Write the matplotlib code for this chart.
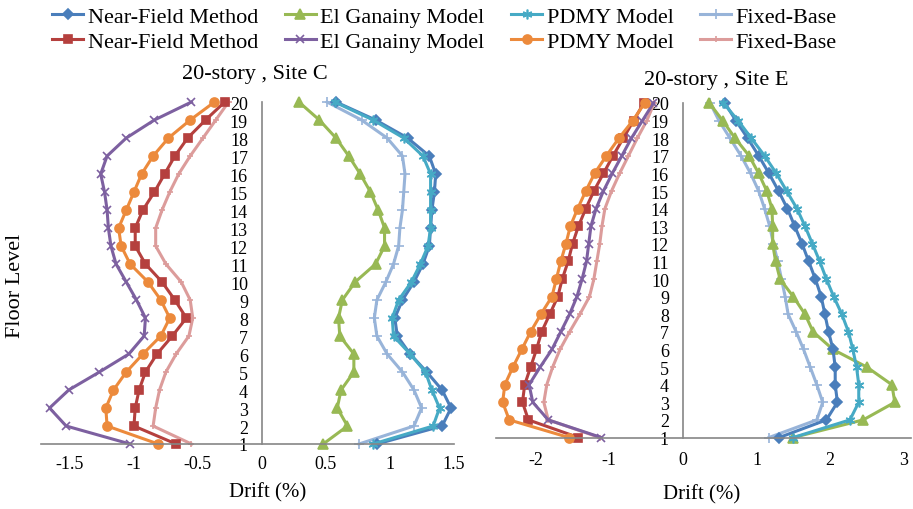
import matplotlib
matplotlib.use("Agg")
import matplotlib.pyplot as plt

plt.rcParams['font.family'] = ['Liberation Serif', 'DejaVu Serif']

floors = list(range(1, 21))

# Site C, values listed from floor 1 to floor 20
nf_pos_c = [0.90, 1.41, 1.48, 1.41, 1.29, 1.16, 1.06, 1.04, 1.10, 1.19, 1.26, 1.31, 1.32, 1.33, 1.35, 1.36, 1.31, 1.14, 0.89, 0.58]
eg_pos_c = [0.48, 0.67, 0.59, 0.62, 0.72, 0.72, 0.61, 0.60, 0.63, 0.73, 0.89, 0.96, 0.96, 0.91, 0.85, 0.77, 0.68, 0.58, 0.45, 0.29]
pdmy_pos_c = [0.87, 1.34, 1.39, 1.33, 1.28, 1.16, 1.03, 1.02, 1.07, 1.17, 1.24, 1.30, 1.32, 1.32, 1.32, 1.32, 1.26, 1.11, 0.87, 0.57]
fb_pos_c = [0.76, 1.19, 1.25, 1.19, 1.10, 0.98, 0.90, 0.88, 0.90, 0.97, 1.03, 1.07, 1.08, 1.10, 1.11, 1.12, 1.10, 0.98, 0.78, 0.51]
nf_neg_c = [-0.67, -1.00, -0.99, -0.96, -0.91, -0.82, -0.70, -0.59, -0.68, -0.78, -0.91, -0.99, -0.99, -0.93, -0.84, -0.76, -0.68, -0.58, -0.44, -0.29]
eg_neg_c = [-1.03, -1.53, -1.66, -1.51, -1.27, -1.04, -0.92, -0.91, -0.98, -1.06, -1.14, -1.18, -1.20, -1.21, -1.23, -1.26, -1.21, -1.06, -0.84, -0.55]
pdmy_neg_c = [-0.81, -1.21, -1.22, -1.16, -1.06, -0.93, -0.79, -0.72, -0.79, -0.89, -1.03, -1.10, -1.12, -1.06, -1.00, -0.94, -0.85, -0.73, -0.56, -0.37]
fb_neg_c = [-0.55, -0.85, -0.83, -0.80, -0.75, -0.67, -0.57, -0.54, -0.56, -0.63, -0.75, -0.83, -0.83, -0.78, -0.72, -0.65, -0.56, -0.46, -0.36, -0.26]

# Site E
nf_pos_e = [1.31, 1.95, 2.10, 2.07, 2.07, 2.04, 1.98, 1.93, 1.88, 1.80, 1.71, 1.62, 1.52, 1.42, 1.30, 1.17, 1.03, 0.88, 0.72, 0.57]
eg_pos_e = [1.50, 2.45, 2.88, 2.84, 2.50, 2.04, 1.77, 1.66, 1.50, 1.32, 1.26, 1.22, 1.22, 1.21, 1.14, 1.03, 0.90, 0.71, 0.54, 0.36]
pdmy_pos_e = [1.50, 2.27, 2.39, 2.39, 2.36, 2.31, 2.25, 2.16, 2.05, 1.95, 1.86, 1.76, 1.66, 1.55, 1.41, 1.27, 1.11, 0.93, 0.75, 0.55]
fb_pos_e = [1.17, 1.82, 1.90, 1.82, 1.73, 1.64, 1.54, 1.43, 1.39, 1.34, 1.29, 1.23, 1.18, 1.11, 1.03, 0.92, 0.79, 0.64, 0.49, 0.37]
nf_neg_e = [-1.42, -2.10, -2.18, -2.15, -2.07, -1.99, -1.92, -1.81, -1.70, -1.64, -1.56, -1.50, -1.42, -1.32, -1.21, -1.08, -0.95, -0.81, -0.67, -0.53]
eg_neg_e = [-1.11, -1.83, -2.04, -2.09, -1.94, -1.78, -1.66, -1.54, -1.44, -1.37, -1.31, -1.28, -1.25, -1.18, -1.08, -0.96, -0.83, -0.70, -0.55, -0.40]
pdmy_neg_e = [-1.55, -2.36, -2.45, -2.42, -2.31, -2.19, -2.07, -1.93, -1.78, -1.72, -1.66, -1.59, -1.53, -1.43, -1.32, -1.20, -1.04, -0.87, -0.68, -0.52]
fb_neg_e = [-1.13, -1.83, -1.89, -1.85, -1.77, -1.67, -1.54, -1.40, -1.27, -1.21, -1.17, -1.13, -1.10, -1.06, -0.97, -0.86, -0.74, -0.62, -0.49, -0.39]

labels = ["Near-Field Method", "El Ganainy Model", "PDMY Model", "Fixed-Base"]

# series styles: (color, marker, markersize)
styles = {
    "nf_pos": ('#4A7EBB', 'D', 5),
    "eg_pos": ('#98B954', '^', 6.5),
    "pdmy_pos": ('#46AAC5', (6, 2, 0), 7),
    "fb_pos": ('#98B4D9', '+', 7),
    "nf_neg": ('#B5403E', 's', 6),
    "eg_neg": ('#7D60A0', 'x', 6),
    "pdmy_neg": ('#EC8A3C', 'o', 6.5),
    "fb_neg": ('#DC9C9B', '+', 5),
}

fig = plt.figure(figsize=(9.13, 5.10), dpi=100)
ax_c = fig.add_axes([40.6 / 913, 65 / 510, 413 / 913, 342 / 510])
ax_e = fig.add_axes([496 / 913, 71.5 / 510, 415 / 913, 334.5 / 510])

data_c = {"nf_pos": nf_pos_c, "eg_pos": eg_pos_c, "pdmy_pos": pdmy_pos_c, "fb_pos": fb_pos_c,
          "nf_neg": nf_neg_c, "eg_neg": eg_neg_c, "pdmy_neg": pdmy_neg_c, "fb_neg": fb_neg_c}
data_e = {"nf_pos": nf_pos_e, "eg_pos": eg_pos_e, "pdmy_pos": pdmy_pos_e, "fb_pos": fb_pos_e,
          "nf_neg": nf_neg_e, "eg_neg": eg_neg_e, "pdmy_neg": pdmy_neg_e, "fb_neg": fb_neg_e}

handles = {}
for ax, data in [(ax_c, data_c), (ax_e, data_e)]:
    for key in ["fb_neg", "nf_neg", "eg_neg", "pdmy_neg", "fb_pos", "eg_pos", "nf_pos", "pdmy_pos"]:
        color, marker, ms = styles[key]
        line, = ax.plot(data[key], floors, color=color, marker=marker, markersize=ms,
                        markeredgewidth=1.2, lw=2.2, clip_on=False)
        handles[key] = line

    ax.set_ylim(1, 20)
    ax.set_yticks(floors)
    for side in ['top', 'right']:
        ax.spines[side].set_visible(False)
    ax.spines['left'].set_position(('data', 0))
    ax.spines['left'].set_color('#868686')
    ax.spines['bottom'].set_color('#868686')
    ax.spines['left'].set_linewidth(1.2)
    ax.spines['bottom'].set_linewidth(1.2)
    ax.tick_params(axis='both', length=0, labelsize=13)
    ax.tick_params(axis='y', pad=10)
    ax.patch.set_visible(False)

ax_c.set_xlim(-1.73, 1.5)
ax_c.set_xticks([-1.5, -1, -0.5, 0, 0.5, 1, 1.5])
ax_c.set_xticklabels(['-1.5', '-1', '-0.5', '0', '0.5', '1', '1.5'])
ax_c.tick_params(axis='x', pad=8)

ax_e.set_xlim(-2.54, 3.1)
ax_e.set_xticks([-2, -1, 0, 1, 2, 3])
ax_e.set_xticklabels(['-2', '-1', '0', '1', '2', '3'])
ax_e.tick_params(axis='x', pad=10)

ax_c.set_xlabel('Drift (%)', fontsize=15)
ax_c.xaxis.set_label_coords(0.55, -0.11)
ax_e.set_xlabel('Drift (%)', fontsize=15)
ax_e.xaxis.set_label_coords(0.496, -0.14)

fig.text(255 / 913, 1 - 75 / 510, '20-story , Site C', fontsize=16, ha='center', va='center')
fig.text(716 / 913, 1 - 80 / 510, '20-story , Site E', fontsize=16, ha='center', va='center')
fig.text(15 / 913, 1 - 286 / 510, 'Floor Level', fontsize=16, rotation=90, ha='center', va='center')

order = ["nf_pos", "nf_neg", "eg_pos", "eg_neg", "pdmy_pos", "pdmy_neg", "fb_pos", "fb_neg"]
leg_labels = [labels[0], labels[0], labels[1], labels[1], labels[2], labels[2], labels[3], labels[3]]
fig.legend([handles[k] for k in order], leg_labels, ncol=4, loc='upper center',
           bbox_to_anchor=(0.487, 0.99), frameon=False, fontsize=16, handlelength=1.4,
           handletextpad=0.2, columnspacing=1.2, labelspacing=0.2, borderpad=0.1,
           borderaxespad=0)

plt.savefig('out.png', dpi=100)
